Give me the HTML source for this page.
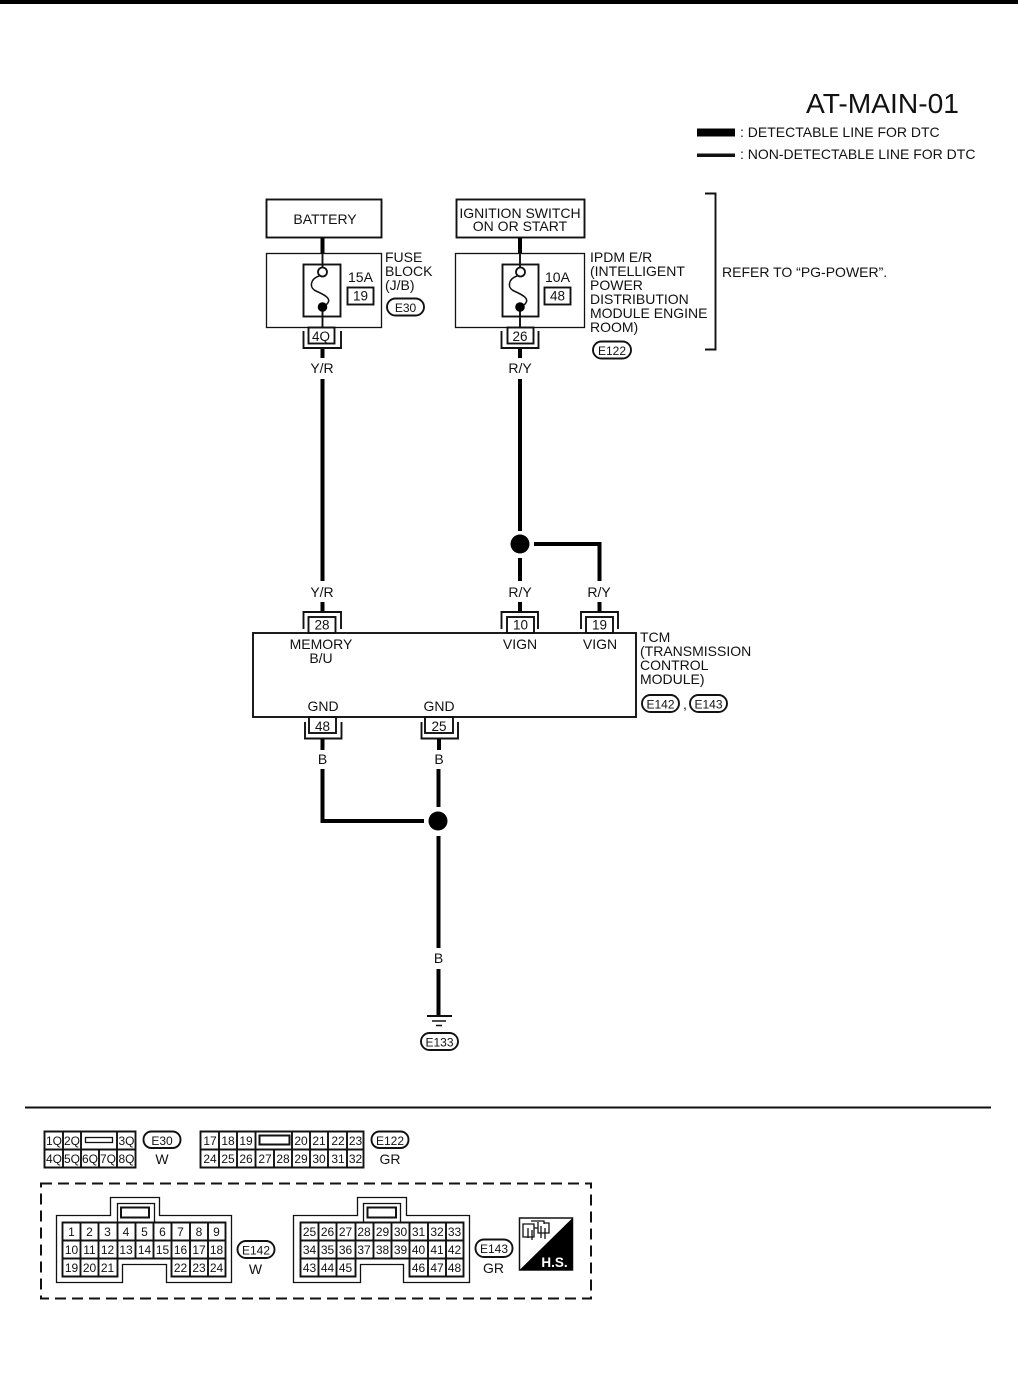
<!DOCTYPE html>
<html><head><meta charset="utf-8"><style>
html,body{margin:0;padding:0;background:#fff}
svg{display:block}
text{font-family:"Liberation Sans",sans-serif;font-size:14px;fill:#111}
.m{text-anchor:middle}
.n{font-size:12px;text-anchor:middle}
.f{fill:none;stroke:#111;stroke-width:1.9}
.t{fill:none;stroke:#111;stroke-width:1.3}
.w{fill:none;stroke:#000;stroke-width:4}
.l{fill:none;stroke:#111;stroke-width:1.9}
.o{fill:#fff;stroke:#111;stroke-width:1.9}
</style></head><body>
<svg width="1018" height="1398" viewBox="0 0 1018 1398" xmlns="http://www.w3.org/2000/svg">
<rect x="0" y="0" width="1018" height="4" fill="#000"/>
<text x="806" y="113" style="font-size:28.2px">AT-MAIN-01</text>
<rect x="697" y="128.5" width="38" height="8" fill="#000"/>
<rect x="697" y="153.500" width="38" height="3.5" fill="#111"/>
<text x="740" y="137">: DETECTABLE LINE FOR DTC</text>
<text x="740" y="159">: NON-DETECTABLE LINE FOR DTC</text>

<!-- top boxes -->
<rect x="266.5" y="199.5" width="115" height="38" class="f"/>
<rect x="456.5" y="199.5" width="128" height="38" class="f"/>
<text x="325" y="224" class="m">BATTERY</text>
<text x="520" y="218" class="m">IGNITION SWITCH</text>
<text x="520" y="231" class="m">ON OR START</text>
<path class="w" d="M322.500 238V253M520 238V253"/>
<rect x="266.5" y="253.5" width="115" height="74" class="t"/>
<rect x="455.5" y="253.5" width="129" height="74" class="t"/>
<rect x="303.5" y="264.5" width="37" height="52" class="f"/>
<rect x="502.5" y="264.5" width="36" height="52" class="f"/>
<path class="l" d="M322.500 253V268M322.500 307V327M520 253V268M520 307V327"/>
<circle cx="322.5" cy="272" r="4.5" fill="#fff" stroke="#111" stroke-width="1.8"/>
<circle cx="520.5" cy="272" r="4.500" fill="#fff" stroke="#111" stroke-width="1.8"/>
<circle cx="322.5" cy="307" r="4.8" fill="#000"/>
<circle cx="520" cy="307" r="4.8" fill="#000"/>
<path class="l" style="stroke-width:1.5" d="M319 276C310 279 309 288 316 291C325 295 333 299 326 305"/>
<path class="l" style="stroke-width:1.5" d="M517 276C508 279 507 288 514 291C523 295 531 299 524 305"/>
<text x="348" y="282">15A</text>
<text x="545" y="282">10A</text>
<rect x="347.5" y="287.5" width="26" height="17" class="f"/>
<rect x="544.5" y="287.5" width="26" height="17" class="f"/>
<text x="360.5" y="300.500" class="m" style="font-size:13.500px">19</text>
<text x="557.5" y="300.500" class="m" style="font-size:13.500px">48</text>
<text x="385" y="262">FUSE</text>
<text x="385" y="276">BLOCK</text>
<text x="385" y="290">(J/B)</text>
<rect x="387" y="298.5" width="37" height="17" rx="8.5" class="o"/>
<text x="405.5" y="312" class="n">E30</text>
<text x="590" y="262">IPDM E/R</text>
<text x="590" y="276">(INTELLIGENT</text>
<text x="590" y="290">POWER</text>
<text x="590" y="304">DISTRIBUTION</text>
<text x="590" y="318">MODULE ENGINE</text>
<text x="590" y="332">ROOM)</text>
<rect x="593" y="341.5" width="38" height="17" rx="8.5" class="o"/>
<text x="612" y="355" class="n">E122</text>
<path class="l" d="M705 193.5H715.5V349.5H705"/>
<text x="722" y="277">REFER TO “PG-POWER”.</text>

<!-- upper connectors -->
<rect x="308.5" y="327.5" width="26" height="16" class="f"/>
<rect x="507.5" y="327.5" width="26" height="16" class="f"/>
<text x="321" y="341" class="m" style="font-size:13.500px">4Q</text>
<text x="520" y="341" class="m" style="font-size:13.500px">26</text>
<path class="l" d="M303.5 331V348H341V331M501.5 331V348H538.500V331"/>
<path class="w" d="M322.500 349V358M520 349V358"/>
<text x="322" y="373" class="m">Y/R</text>
<text x="520" y="373" class="m">R/Y</text>
<path class="w" d="M322.500 379V581M322.500 602V611M520 379V531M520 558V581M520 602V611M534 544H599.500V581M599.5 602V611"/>
<circle cx="520" cy="544" r="9.5" fill="#000"/>
<text x="322" y="597" class="m">Y/R</text>
<text x="520" y="597" class="m">R/Y</text>
<text x="599" y="597" class="m">R/Y</text>

<!-- TCM -->
<rect x="253" y="633" width="383" height="84" class="f"/>
<rect x="308.5" y="617" width="27" height="16" class="f"/>
<rect x="507" y="617" width="27" height="16" class="f"/>
<rect x="586" y="617" width="27" height="16" class="f"/>
<text x="322" y="629.500" class="m" style="font-size:13.500px">28</text>
<text x="520.5" y="629.500" class="m" style="font-size:13.500px">10</text>
<text x="599.5" y="629.500" class="m" style="font-size:13.500px">19</text>
<path class="l" d="M303.5 629V612H341V629M501.5 629V612H538V629M581 629V612H618V629"/>
<text x="321" y="649" class="m">MEMORY</text>
<text x="321" y="663" class="m">B/U</text>
<text x="520" y="649" class="m">VIGN</text>
<text x="600" y="649" class="m">VIGN</text>
<text x="323" y="711" class="m">GND</text>
<text x="439" y="711" class="m">GND</text>
<text x="640" y="642">TCM</text>
<text x="640" y="656">(TRANSMISSION</text>
<text x="640" y="670">CONTROL</text>
<text x="640" y="684">MODULE)</text>
<rect x="642" y="695" width="37" height="17" rx="8.5" class="o"/>
<text x="660.5" y="708.5" class="n">E142</text>
<text x="683" y="709">,</text>
<rect x="690" y="695" width="37" height="17" rx="8.5" class="o"/>
<text x="708.5" y="708.5" class="n">E143</text>

<!-- lower connectors -->
<rect x="309" y="717" width="27" height="16" class="f"/>
<rect x="425" y="717" width="28" height="16" class="f"/>
<text x="322.5" y="731" class="m" style="font-size:13.500px">48</text>
<text x="439" y="731" class="m" style="font-size:13.500px">25</text>
<path class="l" d="M305 722V738.500H341.5V722M421.5 722V738.500H458V722"/>
<path class="w" d="M322.5 739V750M439 739V750"/>
<text x="322.5" y="764" class="m">B</text>
<text x="439" y="764" class="m">B</text>
<path class="w" d="M322.5 769V821H424M438.5 769V807M438.5 836V948M438.5 969V1016"/>
<circle cx="438" cy="821" r="9.500" fill="#000"/>
<text x="438.5" y="963" class="m">B</text>
<path d="M427 1016H452" stroke="#111" stroke-width="2" fill="none"/>
<path d="M432 1021H446" stroke="#111" stroke-width="1.5" fill="none"/>
<path d="M436 1025.5H442" stroke="#111" stroke-width="1.5" fill="none"/>
<rect x="421" y="1033" width="37" height="17" rx="8.5" class="o"/>
<text x="439.5" y="1046.5" class="n">E133</text>

<path d="M25 1107.5H991" stroke="#111" stroke-width="2"/>

<!-- E30 -->
<path class="f" d="M44.5 1131.5H135.5V1167.5H44.5ZM44.5 1149.5H135.5M63 1131.5V1167.5M81 1131.5V1167.5M117 1131.5V1167.5M99 1149.5V1167.5"/>
<rect x="85.5" y="1137.5" width="27" height="5" class="t"/>
<text x="54" y="1145" class="n">1Q</text><text x="72" y="1145" class="n">2Q</text><text x="126.5" y="1145" class="n">3Q</text>
<text x="54" y="1163" class="n">4Q</text><text x="72" y="1163" class="n">5Q</text><text x="90" y="1163" class="n">6Q</text><text x="108" y="1163" class="n">7Q</text><text x="126.5" y="1163" class="n">8Q</text>
<rect x="143.5" y="1131.5" width="37" height="16.5" rx="8" class="o"/>
<text x="162" y="1145" class="n">E30</text>
<text x="162" y="1164" class="m">W</text>

<!-- E122 -->
<path class="f" d="M200.5 1131.5H363.5V1167.5H200.5ZM200.5 1149.5H363.5M219 1131.5V1167.5M237 1131.5V1167.5M255.500 1131.5V1167.5M292 1131.5V1167.5M310 1131.5V1167.5M328 1131.5V1167.5M347 1131.5V1167.5M274 1149.5V1167.5"/>
<rect x="259.500" y="1135.5" width="30" height="9" stroke-width="2" fill="none" stroke="#111"/>
<text x="210" y="1145" class="n">17</text><text x="228" y="1145" class="n">18</text><text x="246" y="1145" class="n">19</text><text x="301" y="1145" class="n">20</text><text x="319" y="1145" class="n">21</text><text x="338" y="1145" class="n">22</text><text x="355.500" y="1145" class="n">23</text>
<text x="210" y="1163" class="n">24</text><text x="228" y="1163" class="n">25</text><text x="246" y="1163" class="n">26</text><text x="265" y="1163" class="n">27</text><text x="283" y="1163" class="n">28</text><text x="301" y="1163" class="n">29</text><text x="319" y="1163" class="n">30</text><text x="338" y="1163" class="n">31</text><text x="355.500" y="1163" class="n">32</text>
<rect x="371.5" y="1131.5" width="37" height="16.5" rx="8" class="o"/>
<text x="390" y="1145" class="n">E122</text>
<text x="390" y="1164" class="m">GR</text>

<!-- dashed -->
<rect x="41" y="1183.5" width="550" height="115" fill="none" stroke="#111" stroke-width="2" stroke-dasharray="11 6"/>

<!-- E142 -->
<path class="t" d="M56.5 1215.500H110.500V1197.500H159.500V1215.500H231.500V1282.500H166.500V1264.500H122.500V1282.500H56.500Z"/>
<path class="t" d="M117.500 1222V1203.500H154.500V1222"/>
<rect x="121" y="1207.500" width="28" height="10" fill="none" stroke="#111" stroke-width="2"/>
<path class="f" d="M62.500 1222.500H225.500V1276.500H171.500V1258.500H117.500V1276.500H62.500ZM62.500 1240.500H225.500M62.500 1258.500H117.500M171.500 1258.500H225.500M80.500 1222.500V1276.500M98.500 1222.500V1276.500M117.500 1222.500V1258.500M135.500 1222.500V1258.500M153.500 1222.500V1258.500M171.500 1222.500V1258.500M190 1222.500V1276.500M208 1222.500V1276.500"/>
<text x="71.500" y="1236" class="n">1</text><text x="89.500" y="1236" class="n">2</text><text x="107.500" y="1236" class="n">3</text><text x="126" y="1236" class="n">4</text><text x="144.500" y="1236" class="n">5</text><text x="162.500" y="1236" class="n">6</text><text x="180.500" y="1236" class="n">7</text><text x="199" y="1236" class="n">8</text><text x="216.500" y="1236" class="n">9</text>
<text x="71.500" y="1254" class="n">10</text><text x="89.500" y="1254" class="n">11</text><text x="107.500" y="1254" class="n">12</text><text x="126" y="1254" class="n">13</text><text x="144.500" y="1254" class="n">14</text><text x="162.500" y="1254" class="n">15</text><text x="180.500" y="1254" class="n">16</text><text x="199" y="1254" class="n">17</text><text x="216.500" y="1254" class="n">18</text>
<text x="71.500" y="1272" class="n">19</text><text x="89.500" y="1272" class="n">20</text><text x="107.500" y="1272" class="n">21</text><text x="180.500" y="1272" class="n">22</text><text x="199" y="1272" class="n">23</text><text x="216.500" y="1272" class="n">24</text>
<rect x="237.500" y="1241" width="37" height="17" rx="8.500" class="o"/>
<text x="256" y="1254.500" class="n">E142</text>
<text x="255.500" y="1274" class="m">W</text>

<!-- E143 -->
<path class="t" d="M293.500 1215.500H357.500V1197.500H406.500V1215.500H469.500V1282.500H403.500V1264.500H360.500V1282.500H293.500Z"/>
<path class="t" d="M363.500 1222V1203.500H400.500V1222"/>
<rect x="367.500" y="1207.500" width="28.500" height="10" fill="none" stroke="#111" stroke-width="2"/>
<path class="f" d="M300.500 1222.500H463.500V1276.500H409.500V1258.500H355.500V1276.500H300.500ZM300.500 1240.500H463.500M300.500 1258.500H355.500M409.500 1258.500H463.500M318.500 1222.500V1276.500M336.500 1222.500V1276.500M355.500 1222.500V1258.500M373.500 1222.500V1258.500M391.500 1222.500V1258.500M409.500 1222.500V1258.500M428 1222.500V1276.500M446 1222.500V1276.500"/>
<text x="309.500" y="1236" class="n">25</text><text x="327.500" y="1236" class="n">26</text><text x="345.500" y="1236" class="n">27</text><text x="364" y="1236" class="n">28</text><text x="382.500" y="1236" class="n">29</text><text x="400.500" y="1236" class="n">30</text><text x="418.500" y="1236" class="n">31</text><text x="437" y="1236" class="n">32</text><text x="454.500" y="1236" class="n">33</text>
<text x="309.500" y="1254" class="n">34</text><text x="327.500" y="1254" class="n">35</text><text x="345.500" y="1254" class="n">36</text><text x="364" y="1254" class="n">37</text><text x="382.500" y="1254" class="n">38</text><text x="400.500" y="1254" class="n">39</text><text x="418.500" y="1254" class="n">40</text><text x="437" y="1254" class="n">41</text><text x="454.500" y="1254" class="n">42</text>
<text x="309.500" y="1272" class="n">43</text><text x="327.500" y="1272" class="n">44</text><text x="345.500" y="1272" class="n">45</text><text x="418.500" y="1272" class="n">46</text><text x="437" y="1272" class="n">47</text><text x="454.500" y="1272" class="n">48</text>
<rect x="475.500" y="1239.500" width="37" height="17.500" rx="8.500" class="o"/>
<text x="494" y="1253" class="n">E143</text>
<text x="493.500" y="1273" class="m">GR</text>

<!-- H.S. -->
<rect x="519.500" y="1218" width="53" height="52" fill="#fff" stroke="#111" stroke-width="1.5"/>
<path d="M572.500 1218V1270H519.500Z" fill="#000"/>
<path d="M523 1224H534V1237H523ZM534 1228H538M531 1221H544V1224M538 1222V1233H549V1223H544M528 1228V1238M532 1230V1240M541 1226V1238M545 1228V1239" fill="none" stroke="#111" stroke-width="1.3"/>
<text x="554.500" y="1267" class="m" style="font-size:13.500px;font-weight:bold;fill:#fff">H.S.</text>
</svg>
</body></html>
